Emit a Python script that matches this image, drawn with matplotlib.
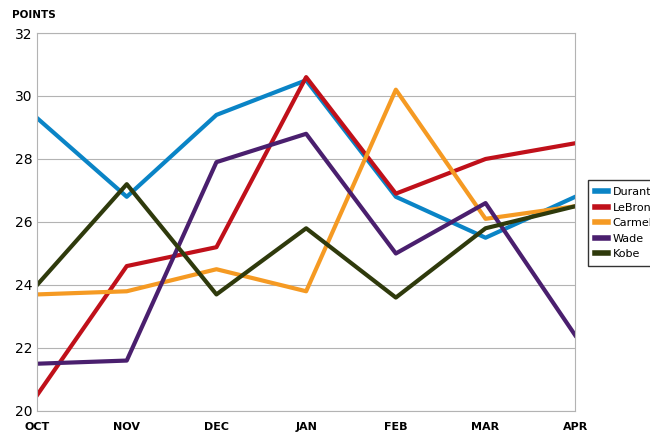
import matplotlib.pyplot as plt

months = ["OCT", "NOV", "DEC", "JAN", "FEB", "MAR", "APR"]
durant = [29.3, 26.8, 29.4, 30.5, 26.8, 25.5, 26.8]
lebron = [20.5, 24.6, 25.2, 30.6, 26.9, 28.0, 28.5]
carmelo = [23.7, 23.8, 24.5, 23.8, 30.2, 26.1, 26.5]
wade = [21.5, 21.6, 27.9, 28.8, 25.0, 26.6, 22.4]
kobe = [24.0, 27.2, 23.7, 25.8, 23.6, 25.8, 26.5]

series = [
    ("Durant", durant, "#0a84c6"),
    ("LeBron", lebron, "#c0101a"),
    ("Carmelo", carmelo, "#f59a23"),
    ("Wade", wade, "#4a1f6e"),
    ("Kobe", kobe, "#2f3a0c"),
]

fig = plt.figure(figsize=(6.5, 4.4), dpi=100)
ax = fig.add_axes([0.057, 0.066, 0.828, 0.859])
x = range(len(months))
for name, vals, col in series:
    ax.plot(x, vals, color=col, lw=3.0, label=name)

ax.set_xlim(0, len(months) - 1)
ax.set_ylim(20, 32)
ax.set_yticks(range(20, 33, 2))
ax.set_xticks(list(x))
ax.set_xticklabels(months, fontsize=8, fontweight="bold")
ax.tick_params(axis="y", labelsize=10, length=0)
ax.tick_params(axis="x", length=0, pad=8)
ax.grid(axis="y", color="#b3b3b3", lw=0.8)
ax.set_axisbelow(True)
for s in ax.spines.values():
    s.set_color("#b3b3b3")
fig.text(0.018, 0.965, "POINTS", fontsize=7.5, fontweight="bold", va="center")

leg = fig.legend(loc="center left", bbox_to_anchor=(0.903, 0.493), fontsize=8,
                 frameon=True, fancybox=False, edgecolor="black",
                 handlelength=1.2, handletextpad=0.4, borderpad=0.6,
                 borderaxespad=0.1)
for line in leg.get_lines():
    line.set_linewidth(4)

fig.savefig("out.png", dpi=100)
